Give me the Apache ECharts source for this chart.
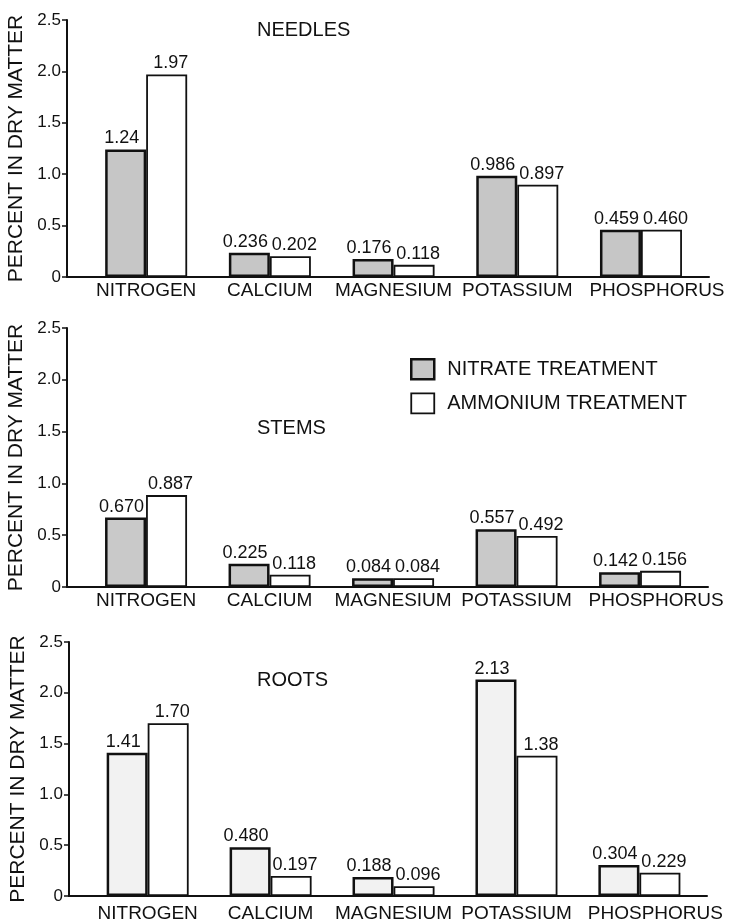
<!DOCTYPE html>
<html>
<head>
<meta charset="utf-8">
<script src="https://cdn.jsdelivr.net/npm/echarts@6/dist/echarts.min.js"></script>
<style>
html,body{margin:0;padding:0;background:#fff;}
#c{width:737px;height:920px;}
</style>
</head>
<body>
<div id="c"></div>
<script>
const categories = ['NITROGEN', 'CALCIUM', 'MAGNESIUM', 'POTASSIUM', 'PHOSPHORUS'];
const yTicks = ['0', '0.5', '1.0', '1.5', '2.0', '2.5'];
const panelTitles = ['NEEDLES', 'STEMS', 'ROOTS'];
const seriesNames = ['NITRATE TREATMENT', 'AMMONIUM TREATMENT'];
const yAxisName = 'PERCENT IN DRY MATTER';

const needlesNitrate  = ['1.24', '0.236', '0.176', '0.986', '0.459'];
const needlesAmmonium = ['1.97', '0.202', '0.118', '0.897', '0.460'];
const stemsNitrate    = ['0.670', '0.225', '0.084', '0.557', '0.142'];
const stemsAmmonium   = ['0.887', '0.118', '0.084', '0.492', '0.156'];
const rootsNitrate    = ['1.41', '0.480', '0.188', '2.13', '0.304'];
const rootsAmmonium   = ['1.70', '0.197', '0.096', '1.38', '0.229'];

const panelData = [
  [needlesNitrate, needlesAmmonium],
  [stemsNitrate, stemsAmmonium],
  [rootsNitrate, rootsAmmonium]
];

const FONT = '"Liberation Sans", Arial, Helvetica, sans-serif';
const INK = '#111';
const grids = [
  {left: 67, top: 20, width: 642, height: 257, outerBoundsMode: 'none', containLabel: false},
  {left: 67, top: 328, width: 641, height: 259, outerBoundsMode: 'none', containLabel: false},
  {left: 69, top: 642, width: 638, height: 254, outerBoundsMode: 'none', containLabel: false}
];
const nameTop = [20, 418, 670];
const labelMargin = [4, 4, 8];
const nitrateFill = ['#c6c6c6', '#c9c9c9', '#f2f2f2'];

const chart = echarts.init(document.getElementById('c'), null, {renderer: 'canvas'});

const xAxes = grids.map((g, p) => ({
  gridIndex: p,
  type: 'value',
  min: -0.64,
  max: 4.55,
  axisLine: {show: true, onZero: false, lineStyle: {color: INK, width: 2}},
  axisTick: {show: false},
  splitLine: {show: false},
  axisLabel: {
    customValues: [0, 1, 2, 3, 4],
    hideOverlap: false,
    showMinLabel: true,
    showMaxLabel: true,
    formatter: v => {
      const i = Math.round(v);
      return i === 4 ? '{s|' + categories[i] + '}' : categories[i];
    },
    rich: {s: {padding: [0, 0, 0, 32], fontSize: 19, fontFamily: FONT, color: INK}},
    color: INK, fontSize: 19, fontFamily: FONT, margin: labelMargin[p]
  }
}));

const yAxes = grids.map((g, p) => ({
  gridIndex: p,
  type: 'value',
  min: 0, max: 2.5, interval: 0.5,
  name: yAxisName,
  nameLocation: 'middle',
  nameRotate: 90,
  nameGap: 32,
  nameTextStyle: {color: INK, fontSize: 21, fontFamily: FONT},
  axisLine: {show: true, onZero: false, lineStyle: {color: INK, width: 2}},
  axisTick: {show: true, length: 5, lineStyle: {color: INK, width: 1.5}},
  splitLine: {show: false},
  axisLabel: {
    formatter: (v, i) => yTicks[i],
    color: INK, fontSize: 17, fontFamily: FONT, margin: 6
  }
}));

const series = [];
panelData.forEach((pair, p) => {
  pair.forEach((arr, s) => {
    series.push({
      type: 'bar',
      name: seriesNames[s],
      xAxisIndex: p,
      yAxisIndex: p,
      barWidth: 41,
      barGap: '0%',
      data: arr.map((v, i) => [i, parseFloat(v)]),
      itemStyle: s === 0
        ? {color: nitrateFill[p], borderColor: INK, borderWidth: 2.5}
        : {color: '#ffffff', borderColor: INK, borderWidth: 1.8},
      label: {
        show: true, position: 'top', distance: 2,
        offset: [s === 0 ? -4 : 4, 0],
        formatter: params => arr[params.dataIndex],
        color: INK, fontSize: 18, fontFamily: FONT
      }
    });
  });
});

chart.setOption({
  animation: false,
  backgroundColor: '#fff',
  textStyle: {fontFamily: FONT, color: INK},
  title: panelTitles.map((t, p) => ({
    text: t, left: 257, top: nameTop[p], padding: 0,
    textStyle: {color: INK, fontSize: 20, fontWeight: 'normal', fontFamily: FONT}
  })),
  legend: {
    orient: 'vertical',
    left: 410, top: 358,
    padding: 0,
    itemWidth: 23, itemHeight: 20, itemGap: 12,
    icon: 'rect',
    selectedMode: false,
    textStyle: {color: INK, fontSize: 20, fontFamily: FONT, padding: [0, 0, 0, 8]},
    data: [
      {name: seriesNames[0], itemStyle: {color: '#c6c6c6', borderColor: INK, borderWidth: 2.5}},
      {name: seriesNames[1], itemStyle: {color: '#ffffff', borderColor: INK, borderWidth: 1.8}}
    ]
  },
  grid: grids,
  xAxis: xAxes,
  yAxis: yAxes,
  series: series
});
</script>
</body>
</html>
